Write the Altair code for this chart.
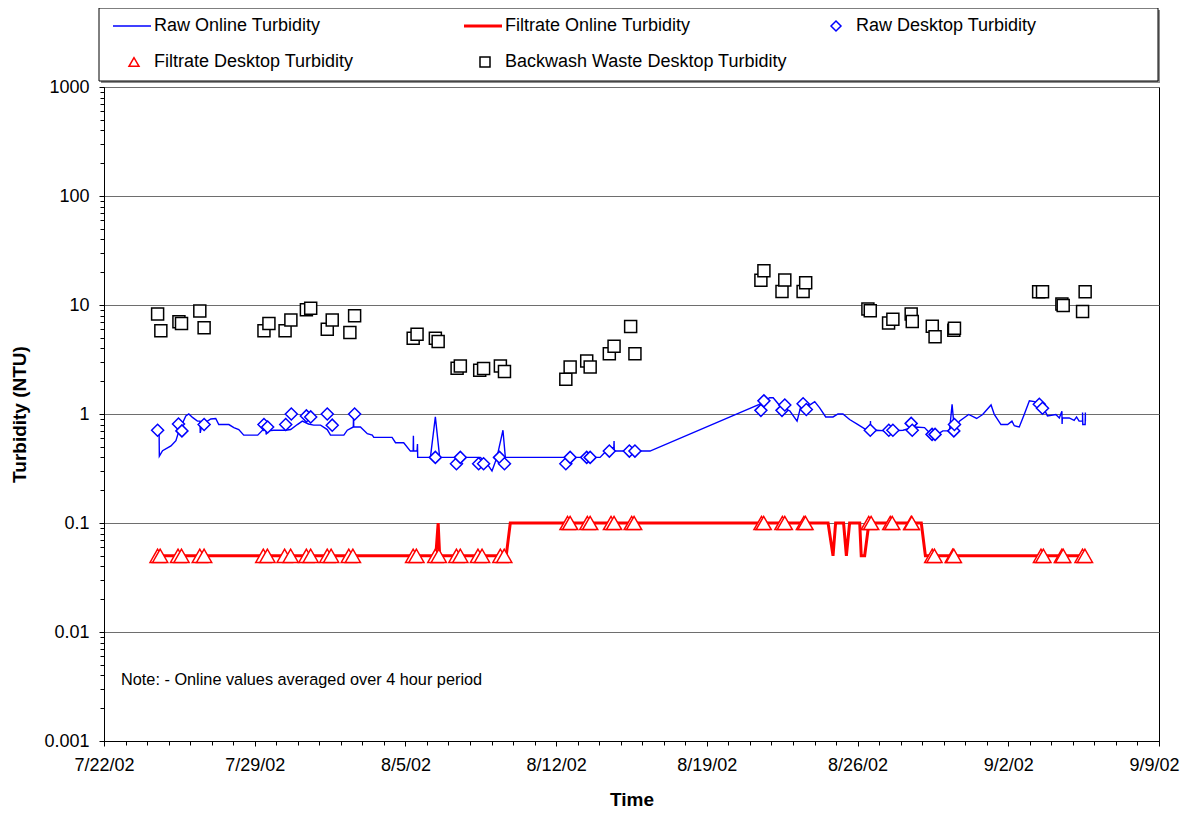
import altair as alt
import pandas as pd

FONT = "Liberation Sans"
BASE = pd.Timestamp("2002-07-22")

SERIES = ["Raw Online Turbidity", "Filtrate Online Turbidity", "Raw Desktop Turbidity",
          "Filtrate Desktop Turbidity", "Backwash Waste Desktop Turbidity"]
COLORS = ["#0000FF", "#FF0000", "#0000FF", "#FF0000", "#000000"]
LINE_PATH = "M-4.2,0L3.4,0"
SHAPES = [LINE_PATH, LINE_PATH, "diamond", "triangle-up", "square"]
WIDTHS = [1.4, 3.0, 1.5, 1.5, 1.5]

# ---- data: days since 7/22/02 00:00 and NTU values ----
raw_online_days = [2.56, 2.57, 2.72, 3.11, 3.34, 3.48, 3.80, 3.94, 4.11, 4.34, 4.46, 4.47, 4.55,
                   4.96, 5.19, 5.33, 5.80, 6.03, 6.26, 6.49, 7.14, 7.42, 7.52, 7.53, 7.59, 7.88,
                   8.44, 8.67, 8.98, 9.21, 9.50, 9.74, 10.06, 10.37, 10.52, 11.14, 11.30, 11.58,
                   11.59, 11.60, 11.91, 12.23, 12.46, 12.53, 13.38, 13.54, 13.92, 14.23, 14.36,
                   14.37, 14.38, 14.54, 14.56, 14.57, 14.70, 15.16, 15.39, 15.59, 17.48, 17.75,
                   18.02, 18.25, 18.53, 18.64, 23.04, 23.19, 23.50, 23.68, 23.69, 23.70, 23.82,
                   25.36, 30.38, 30.92, 31.08, 31.47, 31.85, 32.19, 32.39, 32.70, 33.01, 33.24,
                   33.52, 33.86, 34.09, 34.32, 34.63, 35.02, 35.48, 35.59, 35.60, 35.61, 35.87,
                   36.33, 36.64, 37.11, 37.65, 38.11, 38.26, 38.49, 38.96, 39.27, 39.39, 39.50,
                   39.73, 40.16, 40.53, 40.81, 41.20, 41.35, 41.66, 41.97, 42.17, 42.28, 42.51,
                   42.74, 42.98, 43.21, 43.44, 43.67, 43.82, 44.21, 44.37, 44.49, 44.50, 44.51,
                   44.83, 45.06, 45.17, 45.29, 45.45, 45.45, 45.46, 45.57, 45.58, 45.58]
raw_online_ntu = [0.66, 0.41, 0.46, 0.51, 0.57, 0.70, 0.96, 1.00, 0.93, 0.86, 0.86, 0.67, 0.80,
                  0.90, 0.91, 0.80, 0.80, 0.75, 0.72, 0.64, 0.64, 0.73, 0.83, 0.65, 0.70, 0.71,
                  0.71, 0.72, 0.80, 0.86, 0.81, 0.79, 0.79, 0.72, 0.64, 0.64, 0.71, 0.76,
                  1.00, 0.76, 0.76, 0.66, 0.64, 0.61, 0.61, 0.545, 0.545, 0.457, 0.457,
                  0.63, 0.457, 0.457, 0.53, 0.40, 0.40, 0.40, 0.94, 0.40, 0.40, 0.36,
                  0.30, 0.40, 0.71, 0.40, 0.40, 0.43, 0.49, 0.49, 0.565, 0.457, 0.457,
                  0.457, 1.21, 1.41, 1.41, 1.14, 1.07, 0.86, 1.23, 1.18, 1.30, 1.14,
                  0.94, 0.94, 1.00, 1.00, 0.89, 0.80, 0.70, 0.70, 0.86, 0.70, 0.71,
                  0.70, 0.70, 0.71, 0.76, 0.75, 0.70, 0.61, 0.70, 0.70, 1.23, 0.70,
                  0.86, 0.99, 0.91, 0.99, 1.21, 0.99, 0.80, 0.80, 0.86, 0.78, 0.76,
                  0.99, 1.32, 1.30, 1.23, 1.10, 0.96, 0.99, 0.92, 1.06, 0.81, 0.92,
                  0.92, 0.875, 0.94, 0.86, 0.86, 1.03, 0.80, 0.80, 1.03, 0.86]

filtrate_online_days = [2.45, 15.41, 15.52, 15.59, 18.68, 18.87, 33.63, 33.86, 33.98, 34.35, 34.48,
                        34.63, 35.10, 35.17, 35.33, 35.48, 35.56, 37.96, 38.15, 45.60]
filtrate_online_ntu = [0.05, 0.05, 0.10, 0.05, 0.05, 0.10, 0.10, 0.05, 0.10, 0.10, 0.05,
                       0.10, 0.10, 0.05, 0.05, 0.085, 0.10, 0.10, 0.05, 0.05]

raw_desktop_days = [2.49, 3.46, 3.62, 4.65, 7.43, 7.60, 8.44, 8.70, 9.40, 9.60, 10.37, 10.60, 11.64,
                    15.39, 16.37, 16.55, 17.40, 17.63, 18.37, 18.60,
                    21.45, 21.65, 22.42, 22.58, 23.47, 24.40, 24.66,
                    30.51, 30.65, 31.49, 31.62, 32.47, 32.62,
                    35.59, 36.45, 36.64, 37.49, 37.54, 38.46, 38.60, 39.47, 39.50,
                    43.44, 43.59]
raw_desktop_ntu = [0.71, 0.81, 0.70, 0.80, 0.80, 0.76, 0.80, 1.00, 0.96, 0.94, 1.00, 0.79, 1.00,
                   0.40, 0.35, 0.40, 0.35, 0.35, 0.40, 0.35,
                   0.35, 0.40, 0.40, 0.40, 0.457, 0.457, 0.457,
                   1.08, 1.32, 1.08, 1.21, 1.24, 1.10,
                   0.71, 0.71, 0.71, 0.82, 0.71, 0.65, 0.65, 0.70, 0.80,
                   1.23, 1.13]

filtrate_desktop_days = [2.49, 2.61, 3.44, 3.60, 4.45, 4.65, 7.40, 7.59, 8.39, 8.67, 9.40, 9.60,
                         10.37, 10.55, 11.37, 11.56, 14.36, 14.51, 15.39, 15.55, 16.37, 16.55,
                         17.37, 17.56, 18.41, 18.59,
                         21.53, 21.65, 22.45, 22.58, 23.55, 23.69, 24.51, 24.62, 30.54, 30.64,
                         31.51, 31.62, 32.51, 32.58, 35.52, 35.63, 36.52, 36.61, 37.49, 37.52,
                         38.47, 38.57, 39.42, 39.47, 43.52, 43.63, 44.49, 44.55, 45.45, 45.56]
filtrate_desktop_ntu = [0.05] * 26 + [0.1] * 20 + [0.05] * 10

backwash_days = [2.49, 2.64, 3.48, 3.60, 4.45, 4.65,
                 7.43, 7.66, 8.41, 8.68, 9.40, 9.60, 10.37, 10.60, 11.42, 11.64,
                 14.36, 14.54, 15.39, 15.52, 16.40, 16.55, 17.45, 17.63, 18.41, 18.60,
                 21.45, 21.65, 22.42, 22.58, 23.47, 23.69, 24.46, 24.66,
                 30.51, 30.65, 31.49, 31.62, 32.47, 32.59,
                 35.48, 35.59, 36.44, 36.64, 37.49, 37.54, 38.47, 38.60, 39.47, 39.50,
                 43.41, 43.59, 44.49, 44.55, 45.45, 45.57]
backwash_ntu = [8.25, 5.79, 7.01, 6.76, 8.79, 6.17,
                5.79, 6.76, 5.79, 7.27, 9.03, 9.36, 6.00, 7.27, 5.59, 7.96,
                4.96, 5.40, 4.96, 4.62, 2.63, 2.76, 2.52, 2.61, 2.76, 2.45,
                2.08, 2.70, 3.07, 2.70, 3.58, 4.19, 6.35, 3.58,
                16.9, 20.6, 13.3, 17.0, 13.3, 16.0,
                9.17, 8.85, 6.82, 7.42, 8.25, 7.05, 6.40, 5.10, 5.88, 6.13,
                13.2, 13.2, 10.2, 9.89, 8.71, 13.2]

NOTE = "Note: - Online values averaged over 4 hour period"
Y_MAJOR = [0.001, 0.01, 0.1, 1, 10, 100, 1000]
Y_MINOR = [m * 10.0 ** k for k in range(-3, 3) for m in range(2, 10)]


def to_time(days):
    return [(BASE + pd.to_timedelta(d, unit="D")).strftime("%Y-%m-%dT%H:%M:%S") for d in days]


def frame(name, days, vals):
    return pd.DataFrame({"series": name, "t": to_time(days), "v": vals, "idx": range(len(days))})


lines_df = pd.concat([frame(SERIES[1], filtrate_online_days, filtrate_online_ntu),
                      frame(SERIES[0], raw_online_days, raw_online_ntu)], ignore_index=True)
raw_df = frame(SERIES[2], raw_desktop_days, raw_desktop_ntu)
fil_df = frame(SERIES[3], filtrate_desktop_days, filtrate_desktop_ntu)
bw_df = frame(SERIES[4], backwash_days, backwash_ntu)

week_dates = pd.date_range("2002-07-22", "2002-09-09", freq="7D")
day_dates = pd.date_range("2002-07-22", "2002-09-09", freq="1D")
WEEKS = [alt.DateTime(year=d.year, month=d.month, date=d.day) for d in week_dates]
DAYS = [alt.DateTime(year=d.year, month=d.month, date=d.day) for d in day_dates]

xscale = alt.Scale(domain=[WEEKS[0], WEEKS[-1]])
yscale = alt.Scale(type="log", domain=[0.001, 1000], nice=False)

legend = alt.Legend(title=None, orient="none", legendX=12, legendY=-79, columns=3,
                    direction="horizontal",
                    gridAlign="all", columnPadding=22, rowPadding=18, padding=9,
                    labelFont=FONT, labelFontSize=18, labelColor="black", labelOffset=11,
                    labelLimit=400, symbolSize=100, symbolFillColor="white")

color = alt.Color("series:N", scale=alt.Scale(domain=SERIES, range=COLORS), legend=legend)
shape = alt.Shape("series:N", scale=alt.Scale(domain=SERIES, range=SHAPES), legend=legend)
swidth = alt.StrokeWidth("series:N", scale=alt.Scale(type="ordinal", domain=SERIES, range=WIDTHS),
                         legend=legend)

x_main = alt.X("t:T", scale=xscale, axis=alt.Axis(
    values=WEEKS, format="%-m/%-d/%y", labelFontSize=18, labelPadding=10, tickSize=5,
    labelFlush=False,
    labelOffset={"condition": {"test": "datum.index === 1", "value": -5}, "value": 0},
    grid=False, title="Time", titleFontSize=19, titleFontWeight="bold", titleY=49))
y_main = alt.Y("v:Q", scale=yscale, axis=alt.Axis(
    values=Y_MAJOR, format="~g", labelFontSize=18, labelPadding=10, tickSize=5,
    grid=True, gridColor="#6e6e6e", gridWidth=1, title="Turbidity (NTU)",
    titleFontSize=19, titleFontWeight="bold", titleX=-75, titleBaseline="bottom"))

x_none = alt.X("t:T", scale=xscale, axis=None)
y_none = alt.Y("v:Q", scale=yscale, axis=None)

# legend frame (Excel-style box with a grey drop shadow), drawn above the plot area
one = pd.DataFrame({"k": [0]})
legend_shadow = alt.Chart(one).mark_rect(fill="#8c8c8c").encode(
    x=alt.value(-3), x2=alt.value(1056), y=alt.value(-77), y2=alt.value(-4))
legend_frame = alt.Chart(one).mark_rect(fill="white", stroke="black", strokeWidth=1).encode(
    x=alt.value(-5), x2=alt.value(1054), y=alt.value(-79), y2=alt.value(-6))

lines = alt.Chart(lines_df).mark_line().encode(
    x=x_main, y=y_main, color=color, strokeWidth=swidth, order="idx:Q", detail="series:N")


def points(df, size):
    return alt.Chart(df).mark_point(filled=False, fill="white", fillOpacity=1, size=size,
                                    opacity=1).encode(
        x=x_none, y=y_none, color=color, shape=shape, strokeWidth=swidth)


raw_pts = points(raw_df, 144)
fil_pts = points(fil_df, 230)
bw_pts = points(bw_df, 144)

note = alt.Chart(pd.DataFrame({"note": [NOTE]})).mark_text(
    align="left", baseline="middle", font=FONT, fontSize=16.3, color="black").encode(
    x=alt.value(17), y=alt.value(593), text="note:N")

minor = alt.Chart(pd.DataFrame({"t": to_time([0]), "v": [1.0]})).mark_point(opacity=0).encode(
    x=alt.X("t:T", scale=xscale, axis=alt.Axis(values=DAYS, orient="bottom", labels=False,
                                               grid=False, domain=False, tickSize=4, title=None)),
    y=alt.Y("v:Q", scale=yscale, axis=alt.Axis(values=Y_MINOR, orient="left", labels=False,
                                               grid=False, domain=False, tickSize=4, title=None)))

chart = alt.layer(lines, legend_shadow, legend_frame, raw_pts, fil_pts, bw_pts, note,
                  minor).resolve_axis(
    x="independent", y="independent"
).properties(
    width=1055, height=654,
    autosize=alt.AutoSizeParams(type="none"),
    padding={"left": 96, "top": 79, "right": 29, "bottom": 69},
).configure_view(stroke="black", strokeWidth=1).configure_axis(
    labelFont=FONT, titleFont=FONT, labelColor="black", titleColor="black",
    tickColor="black", domainColor="black")

chart.save("out.html", embed_options={"renderer": "svg", "actions": False})
